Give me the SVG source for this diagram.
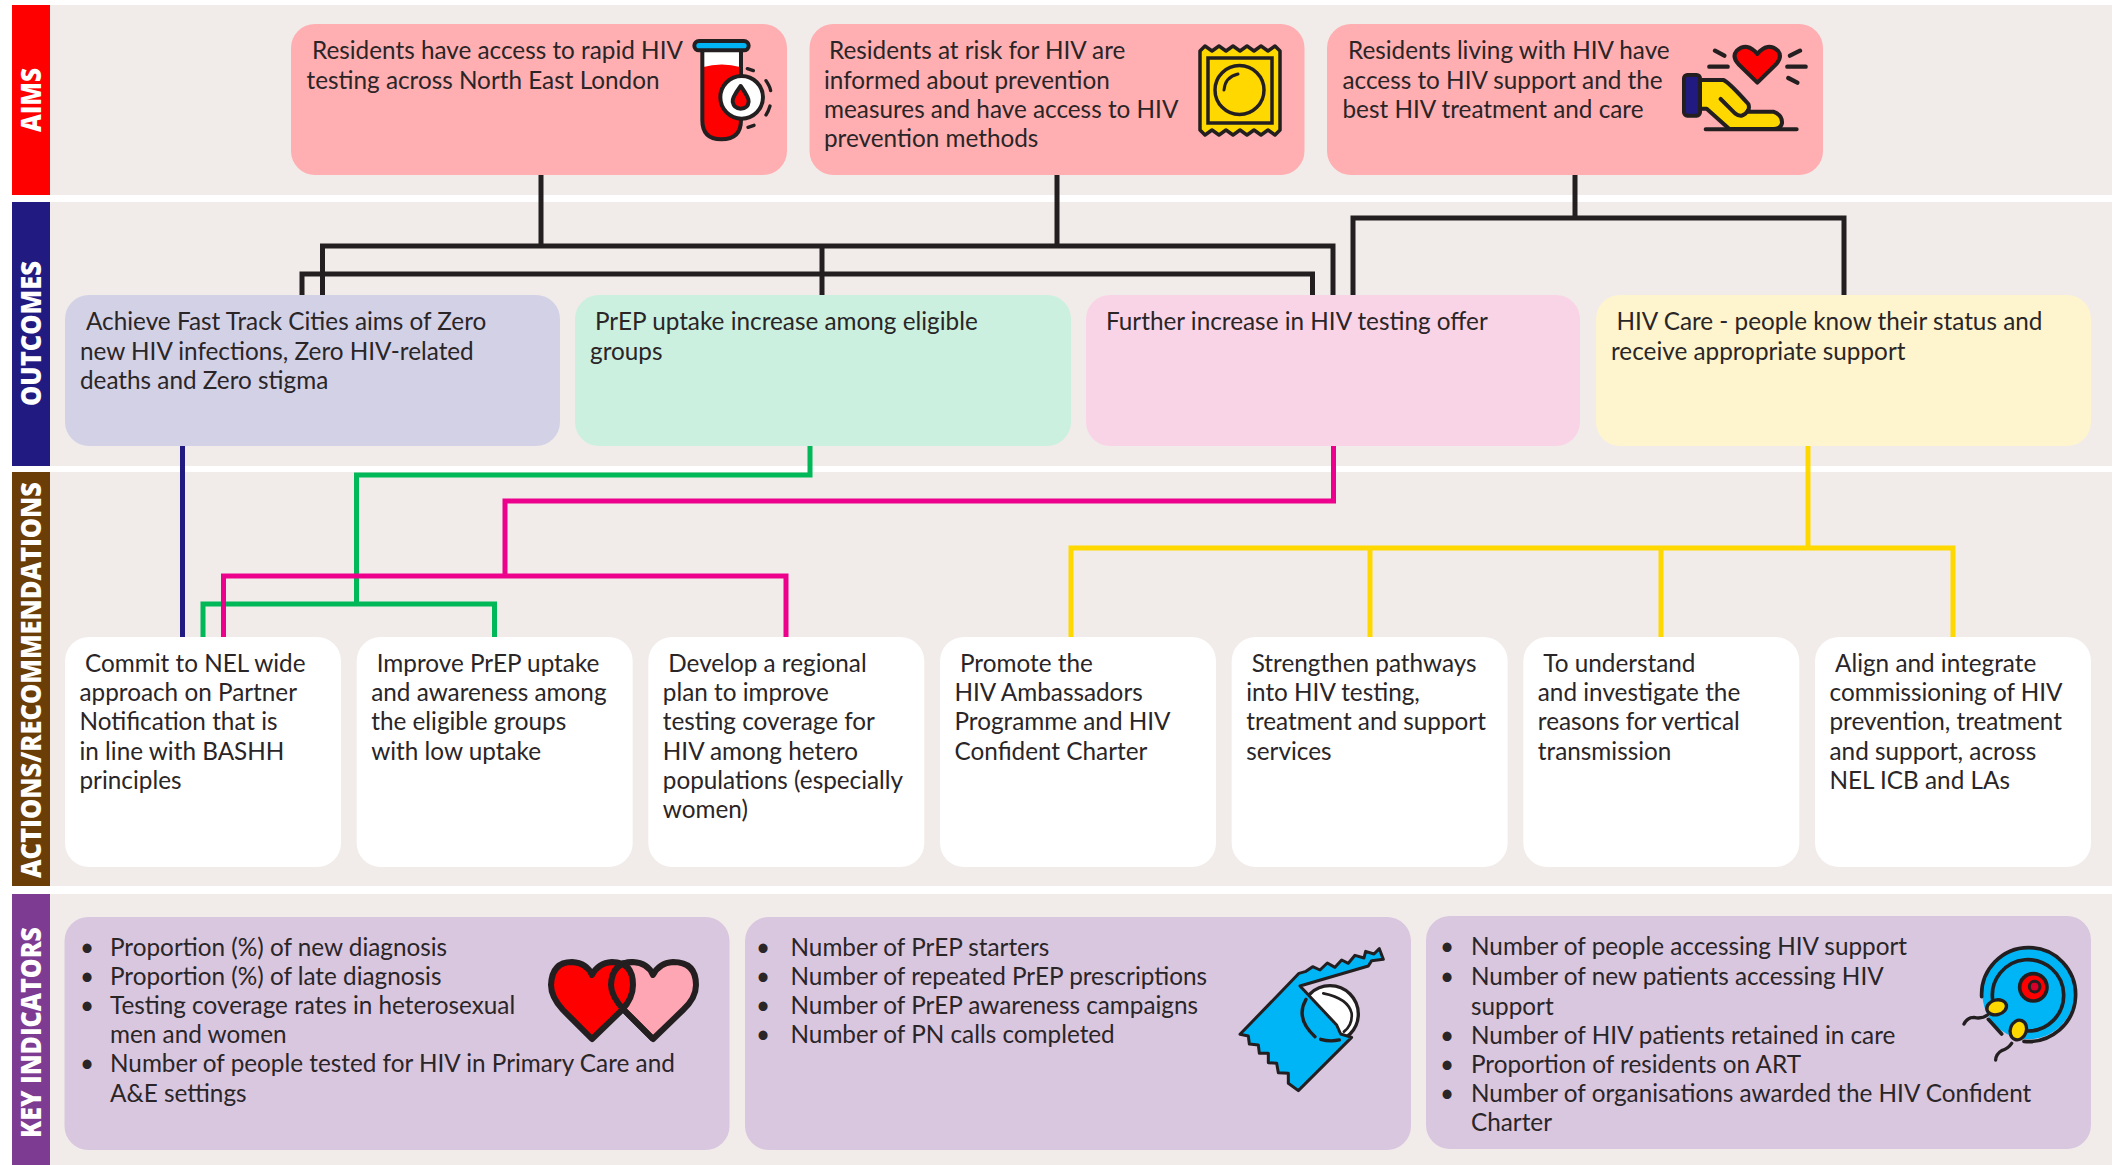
<svg xmlns="http://www.w3.org/2000/svg" width="2112" height="1165" viewBox="0 0 2112 1165">
<style>
.t{font-family:"Lato","Noto Sans",sans-serif;font-size:24.3px;fill:#2a2527;transform:translateY(.8px)}
.s{font-family:"Open Sans","Noto Sans",sans-serif;font-weight:800;font-size:28px;fill:#fff}
.band{fill:#f1ece9}
.aim{fill:#ffaeb1}.act{fill:#fff}.key{fill:#d9c6df}
.ic{stroke:#231f20;stroke-width:3.500;stroke-linecap:round;stroke-linejoin:round}
.ig{stroke:#231f20;stroke-width:12;stroke-linecap:round;stroke-linejoin:round}
.l{fill:none;stroke:#231f20;stroke-linecap:round;stroke-linejoin:round}
</style>
<rect width="2112" height="1165" fill="#fff"/>
<g id="bands">
<rect class="band" x="50" y="5" width="2062" height="190"/>
<rect class="band" x="50" y="202" width="2062" height="264"/>
<rect class="band" x="50" y="472" width="2062" height="414"/>
<rect class="band" x="50" y="894" width="2062" height="271"/>
</g>
<g id="band-aims"><rect x="12" y="5" width="38" height="190" fill="#ff0000"/><text class="s" transform="translate(41,132) rotate(-90)" textLength="64" lengthAdjust="spacingAndGlyphs">AIMS</text></g>
<g id="band-outcomes"><rect x="12" y="202" width="38" height="264" fill="#211a80"/><text class="s" transform="translate(41,406) rotate(-90)" textLength="145" lengthAdjust="spacingAndGlyphs">OUTCOMES</text></g>
<g id="band-actions"><rect x="12" y="472" width="38" height="414" fill="#6b3d07"/><text class="s" transform="translate(41,878) rotate(-90)" textLength="396" lengthAdjust="spacingAndGlyphs">ACTIONS/RECOMMENDATIONS</text></g>
<g id="band-key"><rect x="12" y="894" width="38" height="271" fill="#7e3b92"/><text class="s" transform="translate(41,1138) rotate(-90)" textLength="211" lengthAdjust="spacingAndGlyphs">KEY INDICATORS</text></g>

<g id="connectors" fill="none" stroke-width="5" stroke-linejoin="miter">
<g stroke="#231f20">
<path d="M541,175V246M322.500,295V246H1333V295M302,295V274H1312.500V295M822,246V295M1057,175V246"/>
<path d="M1575,175V218M1353,295V218H1844V295"/>
</g>
<path stroke="#211a80" d="M182.500,446V637"/>
<path stroke="#00b857" d="M810,446V475H356.500V604M203,637V604H494.500V637"/>
<path stroke="#ec008c" d="M1333.500,446V501H505V576M223.500,637V576H786V637"/>
<path stroke="#ffd800" d="M1808,446V548M1071,637V548H1953V637M1370,548V637M1661,548V637"/>
</g>

<g id="aim-1"><rect class="aim" x="291" y="24" width="496" height="151" rx="24"/>
<text class="t"><tspan x="312" y="58">Residents have access to rapid HIV</tspan><tspan x="306.500" y="88">testing across North East London</tspan></text>
<g id="icon-tube" transform="translate(660,20) scale(.3333)">
<path d="M127,90V300Q127,358 184,358Q243,358 243,300V90Z" fill="#fff"/>
<path d="M127,142Q185,125 243,142V300Q243,358 184,358Q127,358 127,300Z" fill="#f00"/>
<path class="ig" d="M127,90V300Q127,358 184,358Q243,358 243,300V90" fill="none"/>
<rect class="ig" x="103" y="63" width="163" height="28" rx="14" fill="#00b5f5"/>
<circle class="ig" cx="245" cy="232" r="64" fill="#fff"/>
<path class="ig" d="M242,198Q215,235 218,245Q222,266 242,266Q264,266 266,245Q268,235 242,198Z" fill="#f00"/>
<path class="l" stroke-width="10" d="M262,146L280,152M318,182Q330,200 332,212M330,258Q325,275 318,285M282,316L264,322"/>
</g></g>

<g id="aim-2"><rect class="aim" x="809.500" y="24" width="495" height="151" rx="24"/>
<text class="t"><tspan x="829" y="58">Residents at risk for HIV are</tspan><tspan x="824" y="88">informed about prevention</tspan><tspan x="824" y="117">measures and have access to HIV</tspan><tspan x="824" y="146">prevention methods</tspan></text>
<g id="icon-pack">
<path class="ic" fill="#ffd800" d="M1200,51L1205,46L1212,51L1219,46L1226,51L1233,46L1240,51L1247,46L1254,51L1261,46L1268,51L1275,46L1280,51V130L1275,135L1268,130L1261,135L1254,130L1247,135L1240,130L1233,135L1226,130L1219,135L1212,130L1205,135L1200,130Z"/>
<rect x="1208" y="58" width="64" height="65" fill="none" stroke="#231f20" stroke-width="3.500"/>
<circle cx="1239.500" cy="90" r="24.500" fill="none" stroke="#231f20" stroke-width="3.500"/>
<path class="l" stroke-width="3" d="M1224,90Q1225,77 1238,74"/>
</g></g>

<g id="aim-3"><rect class="aim" x="1327" y="24" width="496" height="151" rx="24"/>
<text class="t"><tspan x="1348" y="58">Residents living with HIV have</tspan><tspan x="1342.500" y="88">access to HIV support and the</tspan><tspan x="1342.500" y="117">best HIV treatment and care</tspan></text>
<g id="icon-hand" transform="translate(1660,30) scale(.3333)">
<path class="ig" fill="#f00" d="M292,158L235,102Q215,80 230,62Q262,35 292,72Q322,35 354,62Q368,80 349,102Z"/>
<path class="l" stroke-width="13" d="M165,62L193,77M148,110H203M390,77L420,62M382,110H437M385,144L412,158"/>
<path class="ig" fill="#ffd800" d="M120,150H190Q205,155 265,222Q270,235 262,245H340Q368,255 366,280Q362,297 340,297H208L140,236H120Z"/>
<path class="l" stroke-width="12" d="M182,207L225,250Q248,268 265,240M137,298H410"/>
<rect class="ig" x="72" y="135" width="48" height="122" rx="10" fill="#211a80"/>
</g></g>

<g id="outcome-1"><rect x="65" y="295" width="495" height="151" rx="24" fill="#d3d1e6"/>
<text class="t"><tspan x="86" y="329">Achieve Fast Track Cities aims of Zero</tspan><tspan x="80" y="359">new HIV infections, Zero HIV-related</tspan><tspan x="80" y="388">deaths and Zero stigma</tspan></text></g>
<g id="outcome-2"><rect x="575" y="295" width="496" height="151" rx="24" fill="#cbf0df"/>
<text class="t"><tspan x="595" y="329">PrEP uptake increase among eligible</tspan><tspan x="590" y="359">groups</tspan></text></g>
<g id="outcome-3"><rect x="1086" y="295" width="494" height="151" rx="24" fill="#f9d4e6"/>
<text class="t"><tspan x="1106" y="329">Further increase in HIV testing offer</tspan></text></g>
<g id="outcome-4"><rect x="1596" y="295" width="495" height="151" rx="24" fill="#fef5ce"/>
<text class="t"><tspan x="1616.500" y="329">HIV Care - people know their status and</tspan><tspan x="1611" y="359">receive appropriate support</tspan></text></g>

<g id="action-1"><rect class="act" x="65" y="637" width="276" height="230" rx="24"/>
<text class="t"><tspan x="85" y="671">Commit to NEL wide</tspan><tspan x="79.500" y="700">approach on Partner</tspan><tspan x="79.500" y="729.500">Notification that is</tspan><tspan x="79.500" y="759">in line with BASHH</tspan><tspan x="79.500" y="788">principles</tspan></text></g>
<g id="action-2"><rect class="act" x="356.700" y="637" width="276" height="230" rx="24"/>
<text class="t"><tspan x="376.700" y="671">Improve PrEP uptake</tspan><tspan x="371.200" y="700">and awareness among</tspan><tspan x="371.200" y="729.500">the eligible groups</tspan><tspan x="371.200" y="759">with low uptake</tspan></text></g>
<g id="action-3"><rect class="act" x="648.300" y="637" width="276" height="230" rx="24"/>
<text class="t"><tspan x="668.300" y="671">Develop a regional</tspan><tspan x="662.800" y="700">plan to improve</tspan><tspan x="662.800" y="729.500">testing coverage for</tspan><tspan x="662.800" y="759">HIV among hetero</tspan><tspan x="662.800" y="788">populations (especially</tspan><tspan x="662.800" y="817">women)</tspan></text></g>
<g id="action-4"><rect class="act" x="940" y="637" width="276" height="230" rx="24"/>
<text class="t"><tspan x="960" y="671">Promote the</tspan><tspan x="954.500" y="700">HIV Ambassadors</tspan><tspan x="954.500" y="729.500">Programme and HIV</tspan><tspan x="954.500" y="759">Confident Charter</tspan></text></g>
<g id="action-5"><rect class="act" x="1231.700" y="637" width="276" height="230" rx="24"/>
<text class="t"><tspan x="1251.700" y="671">Strengthen pathways</tspan><tspan x="1246.200" y="700">into HIV testing,</tspan><tspan x="1246.200" y="729.500">treatment and support</tspan><tspan x="1246.200" y="759">services</tspan></text></g>
<g id="action-6"><rect class="act" x="1523.300" y="637" width="276" height="230" rx="24"/>
<text class="t"><tspan x="1543.300" y="671">To understand</tspan><tspan x="1537.800" y="700">and investigate the</tspan><tspan x="1537.800" y="729.500">reasons for vertical</tspan><tspan x="1537.800" y="759">transmission</tspan></text></g>
<g id="action-7"><rect class="act" x="1815" y="637" width="276" height="230" rx="24"/>
<text class="t"><tspan x="1835" y="671">Align and integrate</tspan><tspan x="1829.500" y="700">commissioning of HIV</tspan><tspan x="1829.500" y="729.500">prevention, treatment</tspan><tspan x="1829.500" y="759">and support, across</tspan><tspan x="1829.500" y="788">NEL ICB and LAs</tspan></text></g>

<g id="kpi-1"><rect class="key" x="64.500" y="917" width="665" height="233" rx="24"/>
<text class="t"><tspan x="80" y="955">•</tspan><tspan x="80" y="984">•</tspan><tspan x="80" y="1013">•</tspan><tspan x="80" y="1071.500">•</tspan></text>
<text class="t"><tspan x="110" y="955">Proportion (%) of new diagnosis</tspan><tspan x="110" y="984">Proportion (%) of late diagnosis</tspan><tspan x="110" y="1013">Testing coverage rates in heterosexual</tspan><tspan x="110" y="1042.500">men and women</tspan><tspan x="110" y="1071.500">Number of people tested for HIV in Primary Care and</tspan><tspan x="110" y="1101">A&amp;E settings</tspan></text>
<g id="icon-hearts" stroke="#231f20" stroke-width="6" stroke-linejoin="round">
<path fill="#ffa6b5" d="M653,1039L624,1010Q611,996 611,985Q612,962 633,962Q648,963 653,975Q659,963 673,962Q696,962 696,985Q696,998 683,1010Z"/>
<path fill="#f00" d="M592,1039L563,1010Q551,997 551,985Q552,962 572,962Q587,963 592,975Q598,963 612,962Q633,962 633,985Q633,998 622,1010Z"/>
<path fill="none" d="M653,1039L624,1010Q611,996 611,985Q612,962 633,962"/>
</g></g>

<g id="kpi-2"><rect class="key" x="745" y="917" width="666" height="233" rx="24"/>
<text class="t"><tspan x="756" y="955">•</tspan><tspan x="756" y="984">•</tspan><tspan x="756" y="1013">•</tspan><tspan x="756" y="1042">•</tspan></text>
<text class="t"><tspan x="790.500" y="955">Number of PrEP starters</tspan><tspan x="790.500" y="984">Number of repeated PrEP prescriptions</tspan><tspan x="790.500" y="1013">Number of PrEP awareness campaigns</tspan><tspan x="790.500" y="1042">Number of PN calls completed</tspan></text>
<g id="icon-wrapper" transform="translate(1220,930) scale(.3333)">
<circle cx="330" cy="252" r="85" fill="#fff" stroke="#231f20" stroke-width="10"/>
<path class="l" stroke-width="8" d="M310,190Q385,205 395,250Q398,285 372,305"/>
<path fill="#00b5f5" stroke="#231f20" stroke-width="9" stroke-linejoin="round" d="M60,313L237,130L258,124L278,110L300,120L322,99L345,112L365,90L385,100L405,76L432,84L437,64L462,72L478,56L490,88L455,92L445,108L240,168L350,285L362,312L395,322L235,482L205,460L205,430L175,428L170,400L145,398L145,370L118,370L115,345L88,342L85,318Z"/>
<path class="l" stroke-width="10" d="M258,208Q225,265 285,320M302,328Q330,336 358,330"/>
</g></g>

<g id="kpi-3" style="--o:0"><rect class="key" x="1426" y="916" width="665" height="233" rx="24"/>
<text class="t"><tspan x="1440" y="954">•</tspan><tspan x="1440" y="984">•</tspan><tspan x="1440" y="1043">•</tspan><tspan x="1440" y="1072">•</tspan><tspan x="1440" y="1101">•</tspan></text>
<text class="t"><tspan x="1471" y="954">Number of people accessing HIV support</tspan><tspan x="1471" y="984">Number of new patients accessing HIV</tspan><tspan x="1471" y="1014">support</tspan><tspan x="1471" y="1043">Number of HIV patients retained in care</tspan><tspan x="1471" y="1072">Proportion of residents on ART</tspan><tspan x="1471" y="1101">Number of organisations awarded the HIV Confident</tspan><tspan x="1471" y="1130">Charter</tspan></text>
<g id="icon-egg" transform="translate(1950,930) scale(.3333)">
<circle cx="235" cy="190" r="138" fill="#00b5f5"/>
<path class="l" stroke-width="11" d="M222,334A141,141 0 1 0 95,200M115,268L155,312"/>
<path class="l" stroke-width="11" d="M128,210A107,107 0 1 1 232,303"/>
<circle cx="250" cy="172" r="41" fill="#f00" stroke="#231f20" stroke-width="11"/>
<circle cx="254" cy="170" r="16" fill="#d7002a" stroke="#231f20" stroke-width="9"/>
<path class="l" stroke-width="10" d="M112,255Q95,268 72,262Q52,262 42,282M185,340Q175,355 155,362Q138,372 137,390"/>
<ellipse cx="140" cy="232" rx="30" ry="22" transform="rotate(-15 140 232)" fill="#ffd800" stroke="#231f20" stroke-width="10"/>
<ellipse cx="205" cy="300" rx="24" ry="30" transform="rotate(20 205 300)" fill="#ffd800" stroke="#231f20" stroke-width="10"/>
</g></g>
</svg>
